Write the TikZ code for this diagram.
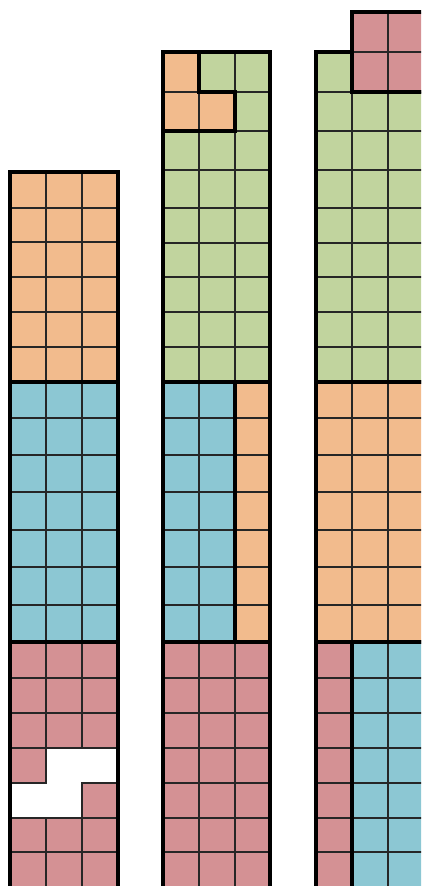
\documentclass[tikz,border=0pt]{standalone}
\definecolor{por}{HTML}{F2BB8D}
\definecolor{pgr}{HTML}{C1D49E}
\definecolor{pbl}{HTML}{8CC7D3}
\definecolor{prd}{HTML}{D49194}
\tikzset{
  gridline/.style={line width=1.8pt, draw=black!85},
  piece/.style={line width=4.5pt, draw=black, line join=miter},
  holeline/.style={line width=1.8pt, draw=black!85},
}
\newcommand\piecefill[4]{%
  \begin{scope}
    \fill[#1] #2;
    \clip #2;
    \foreach \xx in {#3} \draw[gridline] (\xx,0) -- (\xx,900);
    \foreach \yy in {#4} \draw[gridline] (0,\yy) -- (440,\yy);
  \end{scope}
  \draw[piece] #2;
}
\begin{document}
\begin{tikzpicture}[x=1pt,y=-1pt]
\useasboundingbox (0,0) rectangle (421,886);
\clip (0,0) rectangle (421,886);
\fill[white] (0,0) rectangle (421,886);
% ---------- column 1 ----------
\piecefill{por}{(10,172) rectangle (118,382)}{46,82}{208,242,277,312,347}
\piecefill{pbl}{(10,382) rectangle (118,642)}{46,82}{418,455,492,530,567,605}
\piecefill{prd}{(10,642) rectangle (118,888)}{46,82}{678,713,748,783,818,852}
\fill[white] (46,748) -- (118,748) -- (118,783) -- (82,783) -- (82,818) -- (10,818) -- (10,783) -- (46,783) -- cycle;
\draw[holeline] (46,748) -- (118,748) -- (118,783) -- (82,783) -- (82,818) -- (10,818) -- (10,783) -- (46,783) -- cycle;
\draw[piece] (10,642) rectangle (118,888);
% ---------- column 2 ----------
\piecefill{pgr}{(199,52) -- (270,52) -- (270,382) -- (163,382) -- (163,131) -- (235,131) -- (235,92) -- (199,92) -- cycle}{199,235}{92,131,170,208,243,277,312,347}
\piecefill{por}{(163,52) -- (199,52) -- (199,92) -- (235,92) -- (235,131) -- (163,131) -- cycle}{199}{92}
\piecefill{pbl}{(163,382) rectangle (235,642)}{199}{418,455,492,530,567,605}
\piecefill{por}{(235,382) rectangle (270,642)}{}{418,455,492,530,567,605}
\piecefill{prd}{(163,642) rectangle (270,888)}{199,235}{678,713,748,783,818,852}
% ---------- column 3 ----------
\piecefill{prd}{(352,12) rectangle (424,92)}{388}{52}
\piecefill{pgr}{(316,52) -- (352,52) -- (352,92) -- (424,92) -- (424,382) -- (316,382) -- cycle}{352,388}{92,131,170,208,243,277,312,347}
\piecefill{por}{(316,382) rectangle (424,642)}{352,388}{418,455,492,530,567,605}
\piecefill{prd}{(316,642) rectangle (352,888)}{}{678,713,748,783,818,852}
\piecefill{pbl}{(352,642) rectangle (424,888)}{388}{678,713,748,783,818,852}
\end{tikzpicture}
\end{document}
